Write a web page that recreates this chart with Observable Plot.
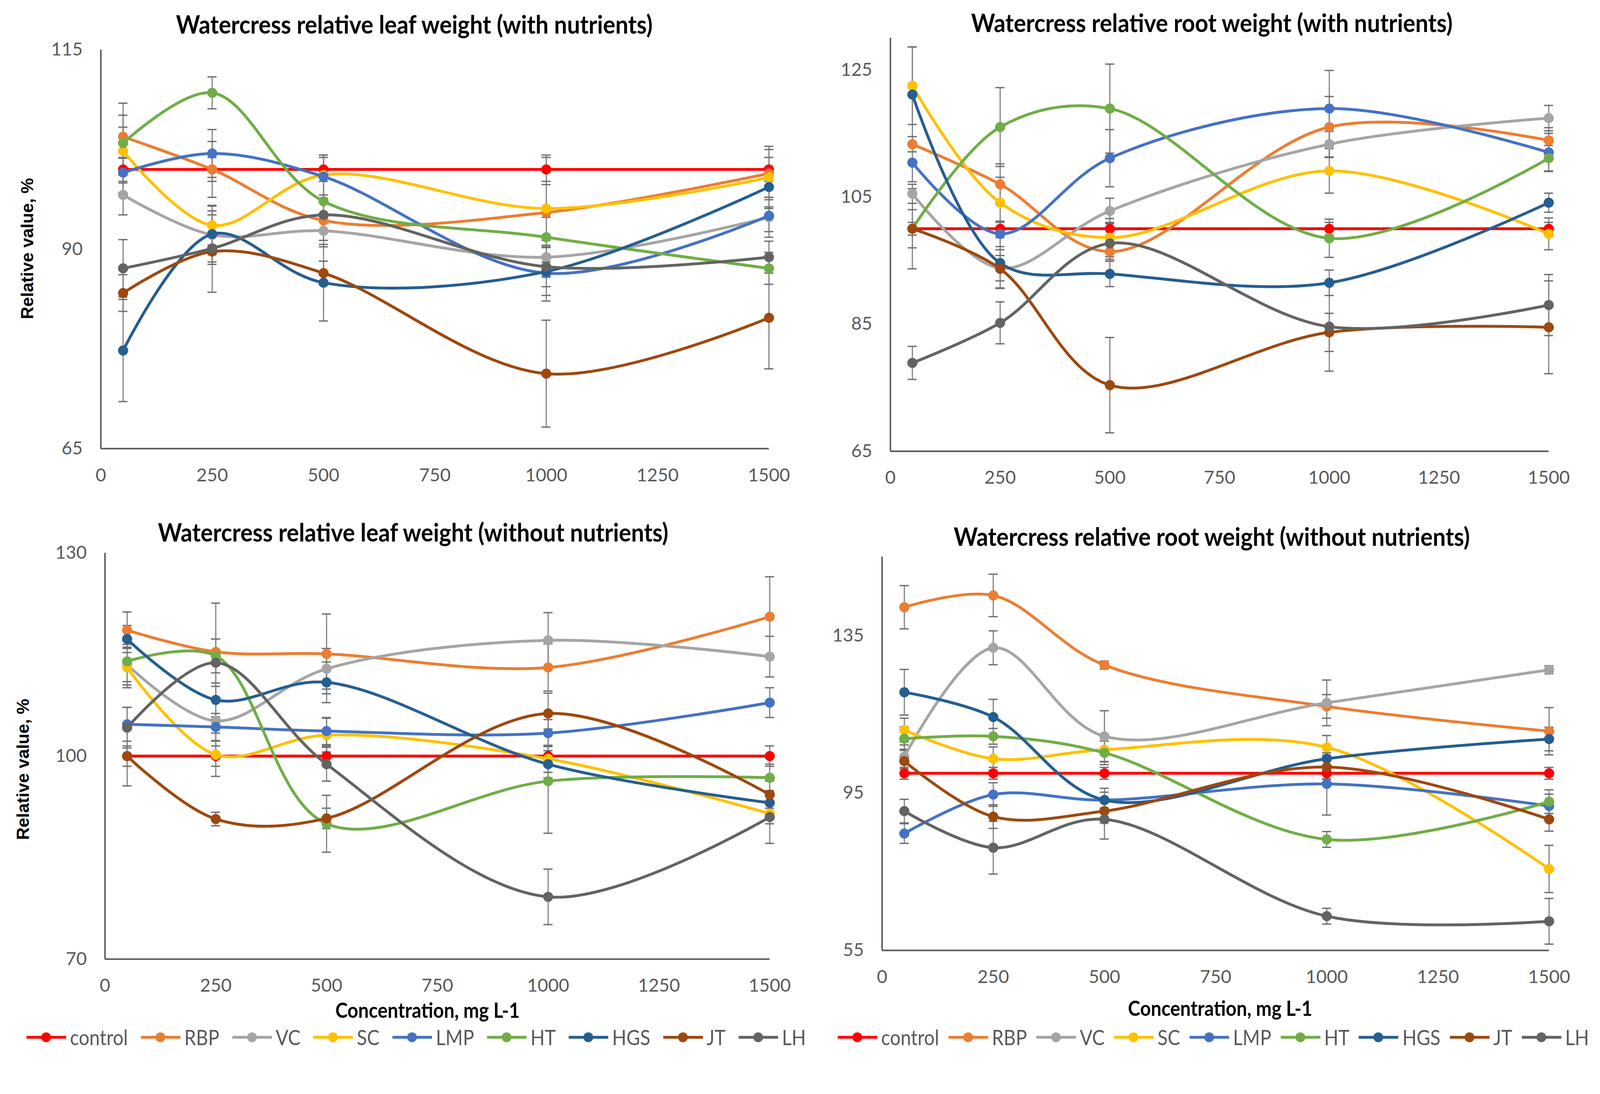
<!DOCTYPE html>
<html><head><meta charset="utf-8">
<script src="https://cdn.jsdelivr.net/npm/d3@7"></script>
<script src="https://cdn.jsdelivr.net/npm/@observablehq/plot@0.6"></script>
<style>
html,body{margin:0;padding:0;background:#fff;overflow:hidden;}
#root{position:absolute;left:0;top:0;width:4229px;height:2800px;background:#fff;overflow:hidden;font-family:Lato,"Open Sans",sans-serif;transform-origin:0 0;}
.title{position:absolute;font-weight:bold;color:#000;transform:translate(-50%,-50%) scaleY(1.12);white-space:nowrap;}
.ylab{position:absolute;font-family:"Liberation Sans",Arial,sans-serif;font-weight:bold;font-size:46px;color:#000;transform:translate(-50%,-50%) rotate(-90deg);white-space:nowrap;}
.xlab{position:absolute;font-weight:bold;color:#000;transform:translate(-50%,-50%) scaleY(1.12);white-space:nowrap;}
.legend{position:absolute;display:flex;align-items:center;justify-content:space-between;transform:translateY(-50%);}
.item{display:flex;align-items:center;color:#595959;}
.item svg{margin-right:10px;}
.item span{display:inline-block;transform:scaleY(1.12);}
.panel{position:absolute;}
</style></head><body><div id="root"></div>
<script>
// ---------- data ----------
const concentrations = [50, 250, 500, 1000, 1500];
const xTicks = [0, 250, 500, 750, 1000, 1250, 1500];
const seriesNames = ["control", "RBP", "VC", "SC", "LMP", "HT", "HGS", "JT", "LH"];
const seriesColors = ["#FF0000", "#ED7D31", "#A5A5A5", "#FFC000", "#4472C4", "#70AD47", "#255E91", "#9E480E", "#636363"];

const panelTitles = [
  "Watercress relative leaf weight (with nutrients)",
  "Watercress relative root weight (with nutrients)",
  "Watercress relative leaf weight (without nutrients)",
  "Watercress relative root weight (without nutrients)"
];
const yLabel = "Relative value, %";
const xLabel = "Concentration, mg L-1";

// leaf, with nutrients (rows in seriesNames order)
const leafWithValues = [
  [100, 100, 100, 100, 100],
  [104.1, 100.0, 93.6, 94.6, 99.5],
  [96.8, 91.8, 92.3, 89.0, 94.0],
  [102.3, 93.0, 99.3, 95.1, 99.0],
  [99.6, 102.0, 99.1, 87.0, 94.2],
  [103.3, 109.6, 96.0, 91.5, 87.6],
  [77.3, 91.9, 85.8, 87.2, 97.8],
  [84.5, 89.7, 87.0, 74.4, 81.4],
  [87.6, 90.1, 94.3, 87.8, 89.0]
];
const leafWithErrors = [
  [1.5, 1.5, 1.5, 1.5, 1.5],
  [2.7, 3.5, 2.5, 3.5, 3.0],
  [2.5, 2.5, 2.0, 2.5, 2.5],
  [3.0, 2.5, 2.5, 6.7, 3.9],
  [2.5, 3.0, 2.7, 3.5, 2.0],
  [5.0, 2.0, 2.5, 2.5, 2.0],
  [6.4, 3.5, 4.8, 3.0, 2.5],
  [2.3, 5.1, 1.5, 6.7, 6.4],
  [3.6, 2.0, 2.0, 2.5, 2.0]
];

// root, with nutrients
const rootWithValues = [
  [100, 100, 100, 100, 100],
  [113.3, 107.0, 96.4, 116.0, 113.9],
  [105.5, 93.8, 102.8, 113.3, 117.4],
  [122.5, 104.1, 98.6, 109.1, 99.2],
  [110.4, 99.2, 111.1, 118.9, 112.0],
  [100.0, 116.0, 118.9, 98.5, 111.1],
  [121.1, 94.6, 92.9, 91.5, 104.1],
  [100.0, 93.7, 75.4, 83.7, 84.5],
  [78.9, 85.2, 97.7, 84.6, 88.0]
];
const rootWithErrors = [
  [1.0, 1.0, 1.0, 1.0, 1.0],
  [1.2, 3.2, 1.5, 4.8, 2.0],
  [1.5, 2.0, 2.0, 2.0, 2.0],
  [6.1, 4.0, 3.0, 3.5, 2.5],
  [3.0, 2.0, 4.5, 6.0, 3.0],
  [6.3, 6.2, 7.0, 3.0, 2.0],
  [7.5, 4.0, 2.0, 2.0, 1.5],
  [3.0, 3.0, 7.5, 3.0, 7.3],
  [2.6, 3.3, 2.5, 7.0, 4.8]
];

// leaf, without nutrients
const leafWithoutValues = [
  [100, 100, 100, 100, 100],
  [118.6, 115.4, 115.1, 113.1, 120.6],
  [113.5, 105.2, 112.9, 117.1, 114.7],
  [113.1, 100.2, 103.1, 99.6, 91.5],
  [104.7, 104.3, 103.7, 103.4, 107.9],
  [114.0, 114.8, 90.0, 96.3, 96.8],
  [117.3, 108.3, 110.9, 98.8, 93.1],
  [100.0, 90.7, 90.8, 106.3, 94.3],
  [104.2, 113.8, 98.8, 79.2, 91.0]
];
const leafWithoutErrors = [
  [1.5, 1.5, 1.5, 1.5, 1.5],
  [2.7, 7.2, 5.9, 3.5, 5.9],
  [3.0, 3.0, 3.0, 4.1, 3.0],
  [3.0, 3.2, 2.5, 2.0, 1.5],
  [2.5, 2.0, 2.0, 2.0, 2.2],
  [3.0, 2.5, 4.2, 7.7, 2.0],
  [2.0, 2.5, 3.0, 2.0, 1.5],
  [4.4, 1.0, 1.5, 3.0, 2.0],
  [3.0, 3.5, 2.5, 4.1, 3.9]
];

// root, without nutrients
const rootWithoutValues = [
  [100, 100, 100, 100, 100],
  [142.2, 145.2, 127.5, 117.0, 110.7],
  [104.2, 131.9, 109.4, 117.9, 126.3],
  [111.0, 103.7, 106.0, 106.6, 75.7],
  [84.7, 94.6, 93.2, 97.3, 91.7],
  [108.8, 109.4, 105.2, 83.2, 92.8],
  [120.6, 114.3, 93.2, 103.7, 108.7],
  [103.1, 89.0, 90.4, 101.6, 88.3],
  [90.4, 81.1, 88.3, 63.7, 62.4]
];
const rootWithoutErrors = [
  [1.5, 1.5, 1.5, 1.5, 1.5],
  [5.5, 5.4, 1.0, 3.0, 6.0],
  [3.0, 4.3, 6.5, 5.8, 1.0],
  [3.0, 3.0, 3.0, 3.0, 6.0],
  [2.5, 3.0, 3.0, 7.9, 3.0],
  [3.0, 2.0, 3.0, 2.0, 3.0],
  [5.8, 4.5, 2.0, 3.0, 3.0],
  [3.0, 3.0, 3.0, 3.0, 3.0],
  [3.0, 6.7, 5.0, 2.0, 5.8]
];

const yDomains = [[65, 115], [65, 130], [70, 130], [55, 155]];
const yTickSets = [[65, 90, 115], [65, 85, 105, 125], [70, 100, 130], [55, 95, 135]];

// ---------- drawing ----------
const root = document.getElementById("root");
const FONT = 'Lato,"Open Sans",sans-serif';
const measureCtx = document.createElement("canvas").getContext("2d");
function fitSize(text, weight, family, targetWidth) {
  measureCtx.font = `${weight} 100px ${family}`;
  return 100 * targetWidth / measureCtx.measureText(text).width;
}
const legendFontSize = fitSize("control", "normal", FONT, 153);

function drawPanel(cfg) {
  const rows = [];
  seriesNames.forEach((name, i) => concentrations.forEach((c, j) =>
    rows.push({series: name, idx: i, x: c, y: cfg.values[i][j], e: cfg.errors[i][j]})));
  const plotW = cfg.width - cfg.marginLeft - cfg.marginRight;
  const cap = 12 * 1500 / plotW;
  const marks = [
    Plot.ruleX(rows, {x: "x", y1: d => d.y - d.e, y2: d => d.y + d.e, stroke: "#7F7F7F", strokeWidth: 3}),
    Plot.ruleY(rows, {y: d => d.y + d.e, x1: d => d.x - cap, x2: d => d.x + cap, stroke: "#6F6F6F", strokeWidth: 3.5}),
    Plot.ruleY(rows, {y: d => d.y - d.e, x1: d => d.x - cap, x2: d => d.x + cap, stroke: "#6F6F6F", strokeWidth: 3.5})
  ];
  seriesNames.forEach((name, i) => {
    const s = rows.filter(d => d.idx === i);
    marks.push(Plot.line(s, {x: "x", y: "y", stroke: seriesColors[i], strokeWidth: 7.5, curve: "catmull-rom"}));
    marks.push(Plot.dot(s, {x: "x", y: "y", r: 13, fill: seriesColors[i], stroke: seriesColors[i], strokeWidth: 1}));
  });
  marks.push(Plot.ruleX([0], {stroke: "#595959", strokeWidth: 4}));
  marks.push(Plot.ruleY([cfg.yDomain[0]], {stroke: "#595959", strokeWidth: 4}));
  const svg = Plot.plot({
    width: cfg.width, height: cfg.height,
    marginLeft: cfg.marginLeft, marginRight: cfg.marginRight,
    marginTop: cfg.marginTop, marginBottom: cfg.marginBottom,
    style: {fontFamily: FONT, fontSize: "48px", color: "#595959", background: "transparent", overflow: "visible"},
    x: {domain: [0, 1500], ticks: xTicks, tickSize: 0, tickPadding: 52, tickFormat: d => String(d), label: null},
    y: {domain: cfg.yDomain, ticks: cfg.yTicks, tickSize: 0, tickPadding: 48, tickFormat: d => String(d), label: null},
    marks
  });
  svg.classList.add("panel");
  svg.style.left = cfg.left + "px";
  svg.style.top = cfg.top + "px";
  root.appendChild(svg);

  const t = document.createElement("div");
  t.className = "title"; t.textContent = cfg.title;
  t.style.fontSize = fitSize(cfg.title, "bold", FONT, cfg.titleW).toFixed(1) + "px";
  t.style.left = cfg.titleX + "px"; t.style.top = cfg.titleY + "px";
  root.appendChild(t);
  if (cfg.yLabelX) {
    const yl = document.createElement("div");
    yl.className = "ylab"; yl.textContent = yLabel;
    yl.style.left = cfg.yLabelX + "px"; yl.style.top = cfg.yLabelY + "px";
    root.appendChild(yl);
  }
  if (cfg.xLabelY) {
    const xl = document.createElement("div");
    xl.className = "xlab"; xl.textContent = xLabel;
    xl.style.fontSize = fitSize(xLabel, "bold", FONT, 487).toFixed(1) + "px";
    xl.style.left = cfg.xLabelX + "px"; xl.style.top = cfg.xLabelY + "px";
    root.appendChild(xl);
  }
  if (cfg.legendX !== undefined) {
    const lg = document.createElement("div");
    lg.className = "legend";
    lg.style.left = cfg.legendX + "px"; lg.style.top = cfg.legendY + "px";
    lg.style.width = cfg.legendW + "px";
    seriesNames.forEach((name, i) => {
      const it = document.createElement("div");
      it.className = "item";
      it.style.fontSize = legendFontSize.toFixed(1) + "px";
      const ns = "http://www.w3.org/2000/svg";
      const sw = document.createElementNS(ns, "svg");
      sw.setAttribute("width", 105); sw.setAttribute("height", 30);
      const ln = document.createElementNS(ns, "line");
      ln.setAttribute("x1", 0); ln.setAttribute("x2", 105); ln.setAttribute("y1", 15); ln.setAttribute("y2", 15);
      ln.setAttribute("stroke", seriesColors[i]); ln.setAttribute("stroke-width", 7.5);
      const c = document.createElementNS(ns, "circle");
      c.setAttribute("cx", 52); c.setAttribute("cy", 15); c.setAttribute("r", 13); c.setAttribute("fill", seriesColors[i]);
      sw.appendChild(ln); sw.appendChild(c);
      it.appendChild(sw);
      const sp = document.createElement("span"); sp.textContent = name;
      it.appendChild(sp);
      lg.appendChild(it);
    });
    root.appendChild(lg);
  }
}

drawPanel({left: 0, top: 0, width: 2120, height: 1330, marginLeft: 266, marginRight: 88, marginTop: 131, marginBottom: 145,
  yDomain: yDomains[0], yTicks: yTickSets[0], values: leafWithValues, errors: leafWithErrors,
  title: panelTitles[0], titleX: 1095, titleY: 62, titleW: 1262, yLabelX: 72, yLabelY: 657});
drawPanel({left: 2120, top: 0, width: 2109, height: 1330, marginLeft: 233, marginRight: 136, marginTop: 100, marginBottom: 138,
  yDomain: yDomains[1], yTicks: yTickSets[1], values: rootWithValues, errors: rootWithErrors,
  title: panelTitles[1], titleX: 3203, titleY: 58, titleW: 1274});
drawPanel({left: 0, top: 1330, width: 2120, height: 1290, marginLeft: 277, marginRight: 86, marginTop: 131, marginBottom: 86,
  yDomain: yDomains[2], yTicks: yTickSets[2], values: leafWithoutValues, errors: leafWithoutErrors,
  title: panelTitles[2], titleX: 1092, titleY: 1405, titleW: 1351, yLabelX: 60, yLabelY: 2033,
  xLabelX: 1130, xLabelY: 2668, legendX: 70, legendY: 2741, legendW: 2060});
drawPanel({left: 2120, top: 1330, width: 2109, height: 1290, marginLeft: 211, marginRight: 135, marginTop: 141, marginBottom: 109,
  yDomain: yDomains[3], yTicks: yTickSets[3], values: rootWithoutValues, errors: rootWithoutErrors,
  title: panelTitles[3], titleX: 3203, titleY: 1416, titleW: 1365,
  xLabelX: 3225, xLabelY: 2663, legendX: 2214, legendY: 2741, legendW: 1986});

// fit the fixed 4229x2800 layout to the actual viewport
function fit() {
  const s = Math.min(window.innerWidth / 4229, window.innerHeight / 2800);
  root.style.transform = `scale(${s})`;
}
fit();
window.addEventListener("resize", fit);
</script>
</body></html>
